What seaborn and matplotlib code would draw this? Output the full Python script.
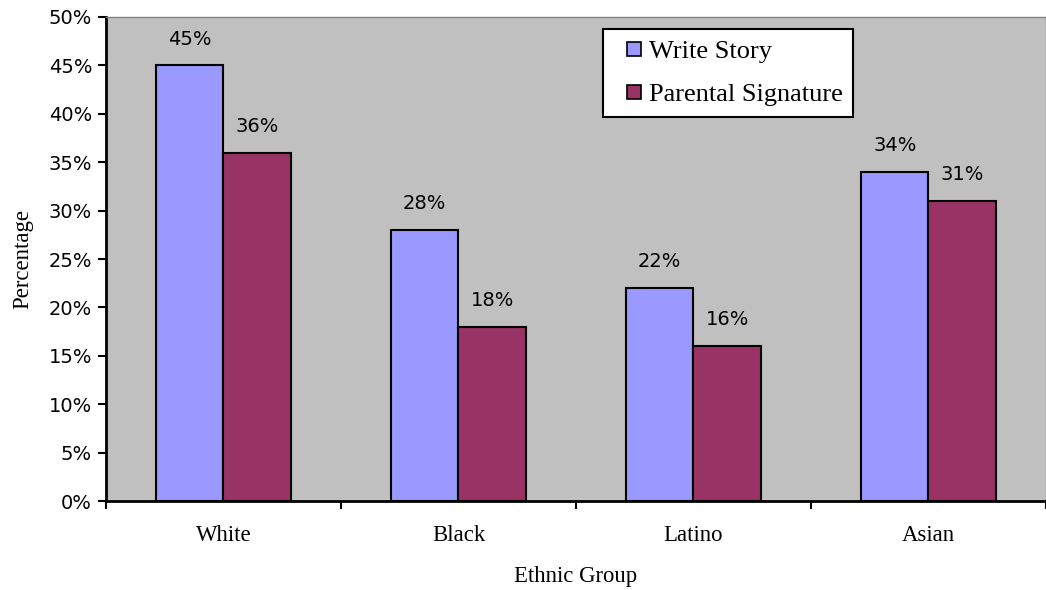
import matplotlib
matplotlib.use("Agg")
import matplotlib.pyplot as plt
from matplotlib.patches import Rectangle
from matplotlib.legend_handler import HandlerPatch
import seaborn as sns
import pandas as pd

groups = ["White", "Black", "Latino", "Asian"]
series = ["Write Story", "Parental Signature"]
write_story = [45, 28, 22, 34]
parental_signature = [36, 18, 16, 31]
y_ticks = [0, 5, 10, 15, 20, 25, 30, 35, 40, 45, 50]

df = pd.DataFrame({
    "group": groups * 2,
    "series": [series[0]] * 4 + [series[1]] * 4,
    "value": write_story + parental_signature,
})

sns.set_theme(style="white")
for key in ["text.color", "axes.labelcolor", "xtick.color", "ytick.color"]:
    plt.rcParams[key] = "black"
serif = ["Liberation Serif", "DejaVu Serif"]
sans = ["DejaVu Sans"]

fig = plt.figure(figsize=(10.46, 5.9), dpi=100)
ax = fig.add_axes([0.1013, 0.1508, 0.8987, 0.8204])
ax.set_facecolor("#C0C0C0")

sns.barplot(data=df, x="group", y="value", hue="series", order=groups,
            hue_order=series, palette=["#9999FF", "#993366"], width=0.575,
            edgecolor="black", linewidth=1.5, saturation=1, ax=ax, legend=True)

for cont in ax.containers:
    labels = [f"{v:.0f}%" for v in cont.datavalues]
    ax.bar_label(cont, labels=labels, padding=12, fontsize=14, family=sans,
                 color="black")

ax.set_ylim(0, 50)
ax.set_xlim(-0.5, 3.5)
ax.set_yticks(y_ticks)
ax.set_yticklabels([f"{t}%" for t in y_ticks], fontsize=14, family=sans)
ax.set_xticks([0, 1, 2, 3])
ax.set_xticklabels(groups, fontsize=16.4, family=serif)
ax.tick_params(axis="y", which="major", direction="out", length=6, width=1.5,
               color="black", pad=4, left=True)
ax.tick_params(axis="x", which="major", length=0, pad=17)
# category separator ticks on the x-axis
ax.set_xticks([-0.5, 0.5, 1.5, 2.5, 3.5], minor=True)
ax.tick_params(axis="x", which="minor", direction="out", length=6, width=1.5,
               color="black", bottom=True)

ax.set_xlabel("Ethnic Group", fontsize=16.4, family=serif, labelpad=15)
ax.set_ylabel("Percentage", fontsize=16.4, family=serif, labelpad=11)

for side in ["left", "bottom"]:
    ax.spines[side].set_color("black")
    ax.spines[side].set_linewidth(2)
for side in ["top", "right"]:
    ax.spines[side].set_color("#808080")
    ax.spines[side].set_linewidth(1)


def right_square(legend, orig_handle, xdescent, ydescent, width, height, fontsize):
    # small square swatch pushed to the right end of the handle box
    s = 10.0
    return Rectangle((-xdescent + width - s, -ydescent + (height - s) / 2), s, s)


handles, labels = ax.get_legend_handles_labels()
leg = ax.legend(handles, labels, loc="upper left", bbox_to_anchor=(0.5285, 0.975),
                frameon=True, fancybox=False, edgecolor="black", framealpha=1,
                prop={"family": serif, "size": 19}, handlelength=1.05,
                handleheight=0.7, handletextpad=0.3, borderpad=0.4,
                labelspacing=0.75, borderaxespad=0,
                handler_map={Rectangle: HandlerPatch(patch_func=right_square)})
leg.get_frame().set_linewidth(1.5)
for h in leg.legend_handles:
    h.set_edgecolor("black")
    h.set_linewidth(1.2)

fig.savefig("out.png", dpi=100)
